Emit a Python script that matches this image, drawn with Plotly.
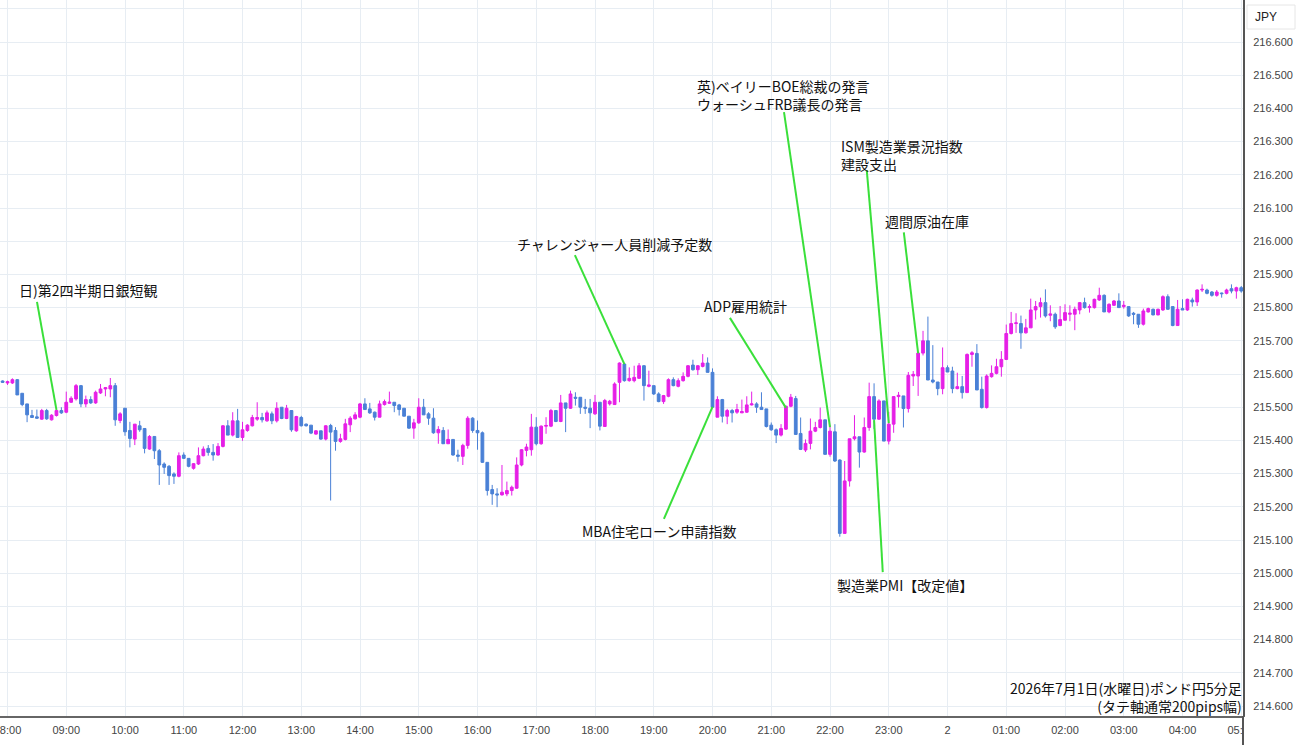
import plotly.graph_objects as go
import pandas as pd

# ---------------- data ----------------
START = "2026-07-01 07:55"   # first 5-minute candle

open_ = [
 215.579, 215.573, 215.573, 215.583, 215.542, 215.510, 215.475, 215.471, 215.464, 215.490,
 215.462, 215.475, 215.490, 215.485, 215.515, 215.525, 215.565, 215.510, 215.523, 215.513,
 215.543, 215.555, 215.555, 215.565, 215.460, 215.497, 215.430, 215.404, 215.444, 215.436,
 215.374, 215.412, 215.369, 215.329, 215.322, 215.299, 215.292, 215.356, 215.346, 215.316,
 215.329, 215.354, 215.376, 215.364, 215.356, 215.382, 215.444, 215.416, 215.459, 215.409,
 215.430, 215.444, 215.464, 215.469, 215.459, 215.480, 215.459, 215.500, 215.466, 215.490,
 215.429, 215.469, 215.449, 215.446, 215.419, 215.429, 215.404, 215.445, 215.430, 215.397,
 215.403, 215.447, 215.465, 215.470, 215.510, 215.495, 215.485, 215.470, 215.508, 215.512,
 215.515, 215.507, 215.497, 215.473, 215.437, 215.453, 215.500, 215.480, 215.467, 215.423,
 215.430, 215.390, 215.403, 215.356, 215.352, 215.385, 215.467, 215.430, 215.423, 215.334,
 215.252, 215.239, 215.236, 215.239, 215.249, 215.256, 215.326, 215.370, 215.372, 215.440,
 215.390, 215.443, 215.443, 215.490, 215.457, 215.513, 215.497, 215.530, 215.530, 215.500,
 215.497, 215.480, 215.515, 215.442, 215.510, 215.508, 215.575, 215.630, 215.580, 215.580,
 215.587, 215.625, 215.563, 215.565, 215.540, 215.517, 215.533, 215.583, 215.563, 215.580,
 215.593, 215.627, 215.613, 215.623, 215.633, 215.605, 215.470, 215.523, 215.473, 215.490,
 215.485, 215.483, 215.485, 215.507, 215.510, 215.500, 215.495, 215.446, 215.432, 215.416,
 215.434, 215.503, 215.526, 215.421, 215.371, 215.391, 215.428, 215.439, 215.462, 215.358,
 215.426, 215.341, 215.120, 215.278, 215.405, 215.411, 215.365, 215.439, 215.532, 215.464,
 215.519, 215.398, 215.449, 215.532, 215.534, 215.496, 215.594, 215.594, 215.663, 215.700,
 215.582, 215.576, 215.556, 215.619, 215.609, 215.556, 215.562, 215.544, 215.659, 215.662,
 215.554, 215.499, 215.592, 215.602, 215.622, 215.644, 215.722, 215.752, 215.752, 215.724,
 215.739, 215.793, 215.803, 215.815, 215.777, 215.780, 215.746, 215.762, 215.780, 215.780,
 215.793, 215.815, 215.800, 215.800, 215.823, 215.837, 215.787, 215.807, 215.820, 215.803,
 215.803, 215.783, 215.780, 215.750, 215.787, 215.795, 215.778, 215.793, 215.833, 215.803,
 215.746, 215.797, 215.793, 215.823, 215.817, 215.853, 215.853, 215.847, 215.837, 215.844,
 215.843, 215.857, 215.850, 215.860]

high = [
 215.581, 215.580, 215.587, 215.585, 215.542, 215.510, 215.492, 215.493, 215.495, 215.495,
 215.479, 215.495, 215.500, 215.547, 215.533, 215.570, 215.567, 215.535, 215.533, 215.550,
 215.570, 215.561, 215.588, 215.573, 215.485, 215.497, 215.456, 215.449, 215.459, 215.436,
 215.416, 215.412, 215.374, 215.334, 215.326, 215.304, 215.364, 215.364, 215.346, 215.332,
 215.379, 215.382, 215.386, 215.389, 215.392, 215.446, 215.461, 215.485, 215.495, 215.456,
 215.449, 215.477, 215.515, 215.483, 215.490, 215.487, 215.515, 215.500, 215.507, 215.490,
 215.474, 215.474, 215.451, 215.446, 215.431, 215.429, 215.446, 215.450, 215.440, 215.420,
 215.465, 215.473, 215.485, 215.513, 215.527, 215.513, 215.487, 215.520, 215.523, 215.547,
 215.515, 215.510, 215.497, 215.473, 215.465, 215.527, 215.525, 215.485, 215.497, 215.443,
 215.440, 215.433, 215.403, 215.372, 215.390, 215.473, 215.470, 215.460, 215.427, 215.334,
 215.266, 215.256, 215.326, 215.276, 215.264, 215.349, 215.374, 215.390, 215.480, 215.470,
 215.445, 215.470, 215.495, 215.490, 215.537, 215.513, 215.550, 215.545, 215.530, 215.525,
 215.525, 215.537, 215.515, 215.525, 215.522, 215.575, 215.635, 215.633, 215.620, 215.625,
 215.633, 215.627, 215.610, 215.565, 215.545, 215.537, 215.587, 215.590, 215.587, 215.605,
 215.627, 215.643, 215.627, 215.660, 215.650, 215.617, 215.533, 215.525, 215.495, 215.495,
 215.510, 215.523, 215.533, 215.547, 215.515, 215.545, 215.495, 215.454, 215.436, 215.449,
 215.505, 215.540, 215.534, 215.469, 215.403, 215.466, 215.456, 215.499, 215.462, 215.446,
 215.449, 215.343, 215.338, 215.405, 215.476, 215.411, 215.469, 215.574, 215.572, 215.524,
 215.519, 215.486, 215.532, 215.546, 215.534, 215.606, 215.609, 215.664, 215.730, 215.773,
 215.687, 215.576, 215.680, 215.626, 215.622, 215.604, 215.594, 215.662, 215.669, 215.690,
 215.592, 215.599, 215.626, 215.646, 215.669, 215.749, 215.787, 215.783, 215.776, 215.766,
 215.827, 215.820, 215.830, 215.855, 215.807, 215.785, 215.805, 215.810, 215.807, 215.803,
 215.817, 215.830, 215.810, 215.827, 215.860, 215.840, 215.813, 215.823, 215.843, 215.820,
 215.803, 215.787, 215.780, 215.797, 215.800, 215.797, 215.797, 215.837, 215.840, 215.803,
 215.823, 215.825, 215.827, 215.830, 215.855, 215.870, 215.857, 215.850, 215.853, 215.845,
 215.857, 215.870, 215.863, 215.865]

low = [
 215.573, 215.567, 215.570, 215.537, 215.503, 215.455, 215.468, 215.465, 215.462, 215.462,
 215.460, 215.472, 215.480, 215.482, 215.513, 215.520, 215.500, 215.500, 215.510, 215.510,
 215.540, 215.533, 215.530, 215.444, 215.452, 215.414, 215.379, 215.386, 215.426, 215.361,
 215.372, 215.344, 215.266, 215.299, 215.266, 215.269, 215.289, 215.344, 215.319, 215.312,
 215.326, 215.352, 215.354, 215.339, 215.354, 215.379, 215.416, 215.412, 215.409, 215.399,
 215.426, 215.442, 215.459, 215.454, 215.456, 215.449, 215.454, 215.464, 215.464, 215.426,
 215.426, 215.442, 215.442, 215.419, 215.417, 215.402, 215.400, 215.219, 215.369, 215.393,
 215.400, 215.425, 215.463, 215.467, 215.493, 215.480, 215.460, 215.470, 215.505, 215.510,
 215.485, 215.475, 215.473, 215.435, 215.405, 215.450, 215.477, 215.447, 215.420, 215.390,
 215.390, 215.390, 215.354, 215.336, 215.326, 215.375, 215.423, 215.372, 215.332, 215.234,
 215.206, 215.199, 215.234, 215.232, 215.234, 215.254, 215.322, 215.352, 215.354, 215.385,
 215.387, 215.420, 215.440, 215.455, 215.455, 215.425, 215.495, 215.505, 215.480, 215.480,
 215.437, 215.477, 215.430, 215.442, 215.505, 215.507, 215.515, 215.577, 215.577, 215.575,
 215.585, 215.520, 215.560, 215.537, 215.515, 215.510, 215.530, 215.563, 215.560, 215.577,
 215.590, 215.610, 215.597, 215.620, 215.605, 215.500, 215.470, 215.454, 215.449, 215.454,
 215.480, 215.483, 215.483, 215.505, 215.483, 215.493, 215.439, 215.429, 215.392, 215.412,
 215.432, 215.500, 215.418, 215.371, 215.365, 215.373, 215.425, 215.436, 215.358, 215.351,
 215.335, 215.110, 215.120, 215.261, 215.400, 215.318, 215.363, 215.429, 215.434, 215.462,
 215.398, 215.388, 215.423, 215.499, 215.439, 215.484, 215.564, 215.534, 215.656, 215.582,
 215.572, 215.536, 215.539, 215.606, 215.542, 215.554, 215.526, 215.544, 215.622, 215.552,
 215.496, 215.496, 215.589, 215.599, 215.592, 215.642, 215.719, 215.724, 215.676, 215.722,
 215.739, 215.764, 215.770, 215.770, 215.759, 215.736, 215.744, 215.762, 215.759, 215.732,
 215.780, 215.797, 215.785, 215.797, 215.820, 215.787, 215.783, 215.805, 215.800, 215.797,
 215.772, 215.750, 215.739, 215.746, 215.785, 215.777, 215.777, 215.790, 215.793, 215.744,
 215.746, 215.793, 215.790, 215.803, 215.805, 215.847, 215.840, 215.833, 215.833, 215.830,
 215.840, 215.843, 215.827, 215.845]

close = [
 215.575, 215.577, 215.583, 215.537, 215.508, 215.477, 215.469, 215.467, 215.490, 215.465,
 215.476, 215.490, 215.483, 215.515, 215.527, 215.565, 215.510, 215.523, 215.513, 215.545,
 215.555, 215.559, 215.565, 215.462, 215.480, 215.426, 215.406, 215.449, 215.432, 215.376,
 215.412, 215.369, 215.326, 215.319, 215.294, 215.292, 215.354, 215.346, 215.322, 215.330,
 215.354, 215.374, 215.364, 215.356, 215.382, 215.444, 215.416, 215.459, 215.409, 215.432,
 215.446, 215.469, 215.469, 215.462, 215.483, 215.459, 215.497, 215.466, 215.497, 215.432,
 215.472, 215.444, 215.444, 215.422, 215.429, 215.404, 215.444, 215.425, 215.397, 215.405,
 215.450, 215.467, 215.477, 215.510, 215.493, 215.483, 215.470, 215.510, 215.517, 215.515,
 215.505, 215.493, 215.473, 215.437, 215.453, 215.500, 215.477, 215.467, 215.423, 215.433,
 215.390, 215.403, 215.356, 215.352, 215.385, 215.467, 215.430, 215.423, 215.334, 215.249,
 215.239, 215.236, 215.244, 215.249, 215.259, 215.326, 215.372, 215.380, 215.440, 215.390,
 215.443, 215.445, 215.490, 215.457, 215.513, 215.497, 215.540, 215.527, 215.500, 215.497,
 215.483, 215.515, 215.443, 215.520, 215.518, 215.570, 215.633, 215.580, 215.587, 215.590,
 215.625, 215.565, 215.567, 215.540, 215.517, 215.535, 215.583, 215.565, 215.580, 215.593,
 215.625, 215.613, 215.625, 215.633, 215.605, 215.500, 215.523, 215.473, 215.490, 215.483,
 215.493, 215.487, 215.507, 215.510, 215.500, 215.493, 215.442, 215.432, 215.416, 215.436,
 215.503, 215.530, 215.418, 215.373, 215.391, 215.428, 215.439, 215.462, 215.358, 215.428,
 215.338, 215.120, 215.278, 215.405, 215.411, 215.365, 215.439, 215.532, 215.464, 215.519,
 215.398, 215.449, 215.532, 215.536, 215.496, 215.596, 215.599, 215.663, 215.700, 215.582,
 215.576, 215.556, 215.619, 215.606, 215.556, 215.562, 215.544, 215.659, 215.664, 215.552,
 215.499, 215.594, 215.602, 215.622, 215.644, 215.722, 215.752, 215.754, 215.724, 215.739,
 215.793, 215.803, 215.815, 215.775, 215.781, 215.742, 215.764, 215.785, 215.783, 215.795,
 215.815, 215.800, 215.803, 215.825, 215.837, 215.787, 215.810, 215.820, 215.800, 215.807,
 215.775, 215.780, 215.750, 215.790, 215.797, 215.778, 215.795, 215.833, 215.795, 215.746,
 215.795, 215.793, 215.825, 215.817, 215.853, 215.855, 215.843, 215.837, 215.847, 215.842,
 215.853, 215.850, 215.860, 215.850]

hour_ticks = [
 "2026-07-01 08:00", "2026-07-01 09:00", "2026-07-01 10:00", "2026-07-01 11:00",
 "2026-07-01 12:00", "2026-07-01 13:00", "2026-07-01 14:00", "2026-07-01 15:00",
 "2026-07-01 16:00", "2026-07-01 17:00", "2026-07-01 18:00", "2026-07-01 19:00",
 "2026-07-01 20:00", "2026-07-01 21:00", "2026-07-01 22:00", "2026-07-01 23:00",
 "2026-07-02 00:00", "2026-07-02 01:00", "2026-07-02 02:00", "2026-07-02 03:00",
 "2026-07-02 04:00", "2026-07-02 05:00"]
hour_labels = ["08:00", "09:00", "10:00", "11:00", "12:00", "13:00", "14:00", "15:00",
               "16:00", "17:00", "18:00", "19:00", "20:00", "21:00", "22:00", "23:00",
               "2", "01:00", "02:00", "03:00", "04:00", "05:00"]

price_ticks = [214.6, 214.7, 214.8, 214.9, 215.0, 215.1, 215.2, 215.3, 215.4, 215.5, 215.6,
               215.7, 215.8, 215.9, 216.0, 216.1, 216.2, 216.3, 216.4, 216.5, 216.6, 216.7]
price_labels = ["214.600", "214.700", "214.800", "214.900", "215.000", "215.100", "215.200",
                "215.300", "215.400", "215.500", "215.600", "215.700", "215.800", "215.900",
                "216.000", "216.100", "216.200", "216.300", "216.400", "216.500", "216.600", ""]

# economic events: label, time, price touched by the pointer line
event_labels = ["日)第2四半期日銀短観", "チャレンジャー人員削減予定数", "ADP雇用統計",
                "MBA住宅ローン申請指数", "英)ベイリーBOE総裁の発言<br>ウォーシュFRB議長の発言",
                "ISM製造業景況指数<br>建設支出", "週間原油在庫", "製造業PMI【改定値】"]
event_times = ["2026-07-01 08:50", "2026-07-01 18:30", "2026-07-01 21:15", "2026-07-01 20:00",
               "2026-07-01 22:00", "2026-07-01 23:00", "2026-07-01 23:30", "2026-07-01 22:45"]
event_prices = [215.492, 215.630, 215.498, 215.501, 215.440, 215.452, 215.662, 215.461]

title_text = "2026年7月1日(水曜日)ポンド円5分足<br>(タテ軸通常200pips幅)"
currency_text = "JPY"

# ---------------- layout helpers (pixel offsets from the pointed candle) ----------------
line_offsets = [(-19.5, 108), (-49.5, 109), (-56, 90), (-48.6, -112),
                (-46, 315), (-22, 253), (-14.3, 121), (8.7, -152)]
text_offsets = [(-39.5, 120), (-109.5, 120), (-84, 102), (-132.6, -124),
                (-135, 332), (-50, 268), (-35.3, 132), (-39.3, -165)]

UP = "#e61fe6"
DOWN = "#4a80d6"
GREEN = "#3ae03a"
GRID = "#e7edf3"
CJK = "Noto Sans CJK JP"

times = pd.date_range(START, periods=len(open_), freq="5min")

fig = go.Figure(go.Candlestick(
    x=times, open=open_, high=high, low=low, close=close,
    increasing=dict(line=dict(color=UP, width=1), fillcolor=UP),
    decreasing=dict(line=dict(color=DOWN, width=1), fillcolor=DOWN),
    whiskerwidth=0, showlegend=False, hoverinfo="skip"))

shapes = []
annotations = []
for lab, t, p, (dx, dy), (tx, ty) in zip(event_labels, event_times, event_prices,
                                          line_offsets, text_offsets):
    shapes.append(dict(type="line", xref="x", yref="y",
                       xsizemode="pixel", ysizemode="pixel",
                       xanchor=t, yanchor=p, x0=0, y0=0, x1=dx, y1=dy,
                       line=dict(color=GREEN, width=2), layer="above"))
    annotations.append(dict(x=t, y=p, xref="x", yref="y", text=lab, showarrow=False,
                            xanchor="left", yanchor="middle", align="left",
                            xshift=tx, yshift=ty,
                            font=dict(family=CJK, size=14, color="#111111")))

PW = 1243.0
PH = 716.0
annotations.append(dict(xref="paper", yref="paper", x=1244 / PW, y=1 - 697 / PH,
                        text=title_text, showarrow=False,
                        xanchor="right", yanchor="middle", align="right",
                        font=dict(family=CJK, size=14, color="#111111")))
# cover the part of the last time label that runs under the price scale
shapes.append(dict(type="rect", xref="paper", yref="paper",
                   x0=1244 / PW, x1=1300 / PW, y0=1 - 745 / PH, y1=1 - 717 / PH,
                   line=dict(width=0), fillcolor="white", layer="above"))
shapes.append(dict(type="line", xref="paper", yref="paper",
                   x0=1, x1=1, y0=1 - 745 / PH, y1=0,
                   line=dict(color="#555555", width=2), layer="above"))
# currency badge on the price scale
shapes.append(dict(type="rect", xref="paper", yref="paper",
                   x0=1247 / PW, x1=1295 / PW, y0=1 - 29 / PH, y1=1 - 5 / PH,
                   line=dict(color="#e6e6e6", width=1), fillcolor="white", layer="above"))
annotations.append(dict(xref="paper", yref="paper", x=1266 / PW, y=1 - 17 / PH,
                        text=currency_text, showarrow=False, xanchor="center", yanchor="middle",
                        font=dict(family="Liberation Sans", size=12, color="#222222")))

fig.update_layout(
    width=1300, height=745,
    margin=dict(l=0, r=57, t=0, b=29, autoexpand=False),
    paper_bgcolor="white", plot_bgcolor="white",
    boxgap=0.25, boxgroupgap=0.25,
    shapes=shapes, annotations=annotations,
    xaxis=dict(type="date", range=["2026-07-01 07:52:20", "2026-07-02 05:01:47"],
               rangeslider=dict(visible=False), automargin=False,
               tickmode="array", tickvals=hour_ticks, ticktext=hour_labels,
               ticklabeloverflow="allow",
               showgrid=True, gridcolor=GRID, gridwidth=1,
               showline=True, linecolor="#666666", linewidth=2,
               ticks="outside", ticklen=3, tickcolor="rgba(0,0,0,0)",
               tickfont=dict(family="Liberation Sans", size=11, color="#444444"),
               zeroline=False, fixedrange=True),
    yaxis=dict(side="right", range=[214.570, 216.7265], automargin=False,
               tickmode="array", tickvals=price_ticks, ticktext=price_labels,
               showgrid=True, gridcolor=GRID, gridwidth=1,
               showline=True, linecolor="#555555", linewidth=2,
               ticks="outside", ticklen=6, tickcolor="rgba(0,0,0,0)",
               tickfont=dict(family="Liberation Sans", size=11, color="#444444"),
               zeroline=False, fixedrange=True),
)

fig.write_html("out.html")
